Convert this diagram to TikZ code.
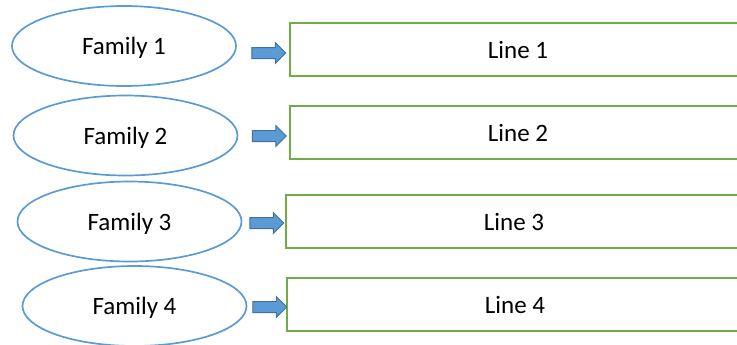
\documentclass[tikz,border=0pt]{standalone}
\usepackage{fontspec}
\setmainfont{Carlito}
\usetikzlibrary{shapes.geometric,shapes.arrows}
\definecolor{famblue}{HTML}{5B9BD5}
\definecolor{arrowedge}{HTML}{41719C}
\definecolor{linegreen}{HTML}{70AD47}

\begin{document}
\begin{tikzpicture}[x=0.5pt,y=-0.5pt,
  family/.style={ellipse,draw=famblue,line width=0.85pt,minimum width=112pt,
    minimum height=40pt,inner sep=0pt,text depth=0pt,font=\fontsize{12.5}{15}\selectfont},
  linebox/.style={rectangle,draw=linegreen,line width=1pt,anchor=north west,
    minimum width=228pt,minimum height=26.5pt,inner sep=0pt,text depth=0pt,font=\fontsize{12.5}{15}\selectfont},
  blockarrow/.style={single arrow,draw=arrowedge,fill=famblue,line width=0.5pt,
    minimum height=17pt,inner xsep=0pt,inner ysep=2.5pt,single arrow head extend=2.5pt}]
  \useasboundingbox (0,0) rectangle (737,344);
  \clip (0,0) rectangle (737,344);
  % Families
  \node[family] (fam1) at (124,46) {Family 1};
  \node[family] (fam2) at (125.5,135.5) {Family 2};
  \node[family] (fam3) at (129.5,221.5) {Family 3};
  \node[family] (fam4) at (134.5,306) {Family 4};
  % Lines (right side runs off the page)
  \node[linebox] (line1) at (289,22) {Line 1};
  \node[linebox] (line2) at (289,105) {Line 2};
  \node[linebox] (line3) at (285,194) {Line 3};
  \node[linebox] (line4) at (286,277) {Line 4};
  % Arrows
  \node[blockarrow] (arr1) at (266,53) {};
  \node[blockarrow] (arr2) at (266.5,136) {};
  \node[blockarrow] (arr3) at (264,223) {};
  \node[blockarrow] (arr4) at (267,307) {};
\end{tikzpicture}
\end{document}
